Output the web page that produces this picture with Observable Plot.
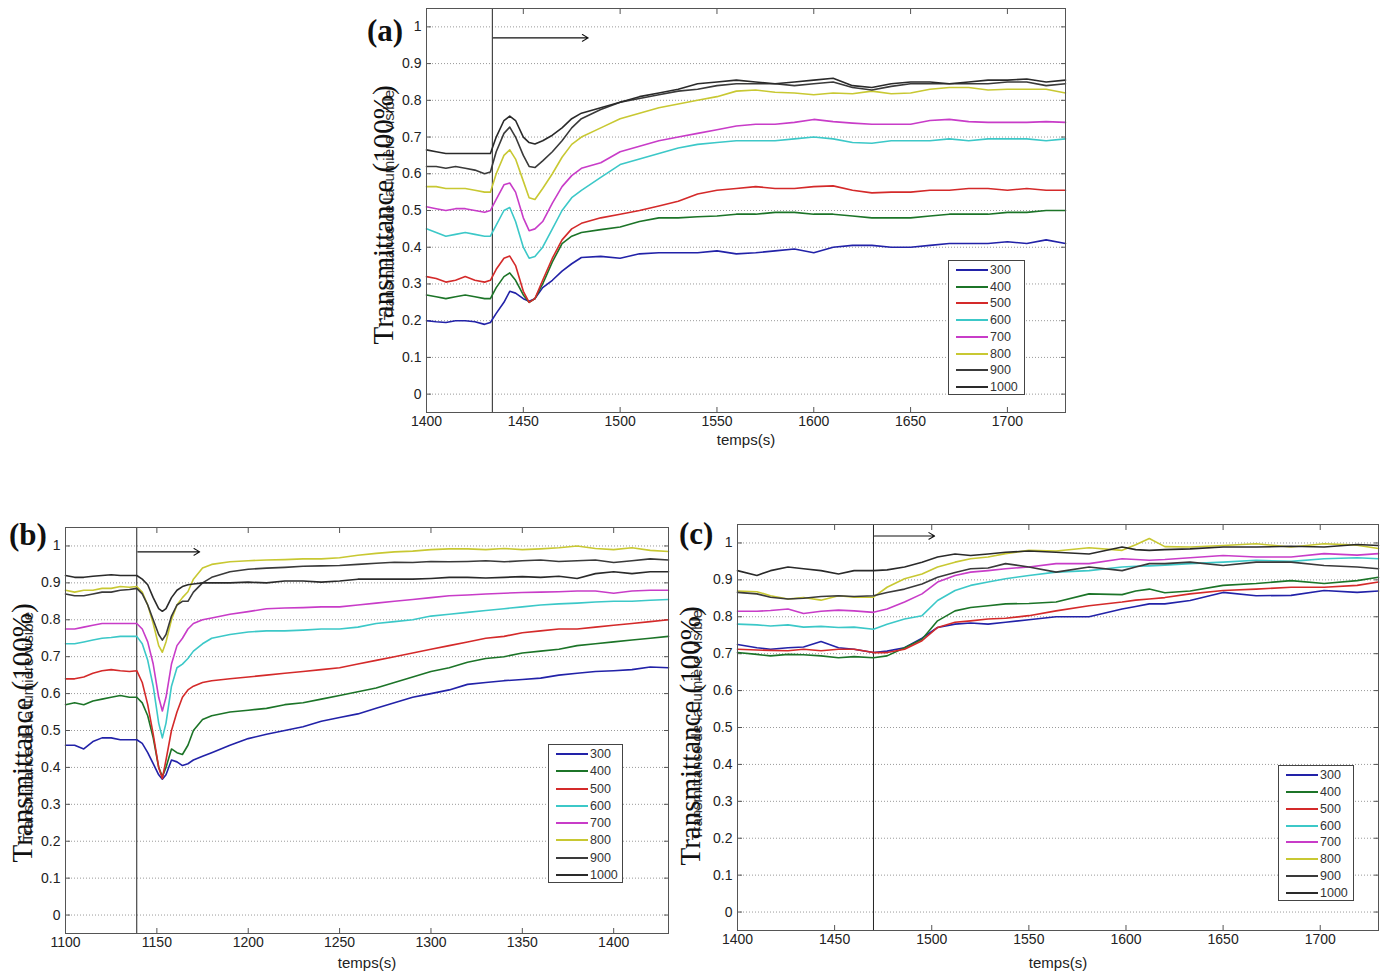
<!DOCTYPE html>
<html><head><meta charset="utf-8">
<script src="https://cdn.jsdelivr.net/npm/d3@7"></script>
<script src="https://cdn.jsdelivr.net/npm/@observablehq/plot@0.6"></script>
<style>
body{margin:0;background:#fff;}
#fig{position:relative;width:1384px;height:973px;overflow:hidden;background:#fff;font-family:"Liberation Sans",Arial,sans-serif;}
.panel{position:absolute;}
.legend{position:absolute;border:1px solid #444;background:#fff;box-sizing:border-box;}
.lrow{position:absolute;left:0;right:0;height:16px;font-size:12.5px;line-height:16px;color:#333;}
.lrow span.ln{position:absolute;top:7px;height:2px;}
.lrow span.tx{position:absolute;top:0;}
.ylab-big{position:absolute;font-family:"Liberation Serif","Times New Roman",serif;font-size:29px;color:#111;white-space:nowrap;transform:translate(-50%,-50%) rotate(-90deg);}
.ylab-small{position:absolute;font-family:"Liberation Sans",Arial,sans-serif;font-size:15px;color:#333;white-space:nowrap;transform:translate(-50%,-50%) rotate(-90deg);}
.plabel{position:absolute;font-family:"Liberation Serif","Times New Roman",serif;font-weight:bold;font-size:31px;color:#111;line-height:1;}
</style>
</head><body>
<div id="fig"></div>
<script>
// ---------- data ----------
const seriesNames = ["300","400","500","600","700","800","900","1000"];
const seriesColors = ["#2222a8","#1c7428","#d42a2a","#3cc8c8","#c83cc8","#c8c832","#3a3a3a","#2a2a2a"];
const yTicks = [0,0.1,0.2,0.3,0.4,0.5,0.6,0.7,0.8,0.9,1];
const xTicksA = [1400,1450,1500,1550,1600,1650,1700];
const xTicksB = [1100,1150,1200,1250,1300,1350,1400];
const xTicksC = [1400,1450,1500,1550,1600,1650,1700];
const yLabelBig = "Transmittance (100%)";
const yLabelSmall = "Transmittance de la lumière visible";
const xLabel = "temps(s)";

// panel (a)
const tA = [1400,1405,1410,1415,1420,1425,1430,1433,1436,1440,1443,1446,1450,1453,1456,1460,1465,1470,1475,1480,1490,1500,1510,1520,1530,1540,1550,1560,1570,1580,1590,1600,1610,1620,1630,1640,1650,1660,1670,1680,1690,1700,1710,1720,1730];
const a300 = [0.20,0.197,0.195,0.20,0.20,0.197,0.19,0.195, 0.22,0.25,0.28,0.275,0.26,0.253,0.26,0.29,0.31,0.335,0.355,0.372, 0.375,0.37,0.382,0.385,0.385,0.385,0.39,0.382,0.385,0.39,0.395,0.385,0.40,0.405,0.405,0.40,0.40,0.405,0.41,0.41,0.41,0.415,0.41,0.42,0.41];
const a400 = [0.27,0.265,0.26,0.265,0.27,0.265,0.26,0.26, 0.29,0.32,0.33,0.31,0.27,0.25,0.26,0.30,0.36,0.41,0.43,0.44, 0.448,0.455,0.47,0.48,0.48,0.483,0.485,0.49,0.49,0.495,0.495,0.49,0.49,0.485,0.48,0.48,0.48,0.485,0.49,0.49,0.49,0.495,0.495,0.50,0.50];
const a500 = [0.32,0.315,0.305,0.31,0.32,0.31,0.305,0.31, 0.34,0.37,0.376,0.35,0.28,0.25,0.26,0.31,0.37,0.42,0.45,0.465, 0.48,0.49,0.50,0.512,0.525,0.545,0.555,0.56,0.565,0.56,0.56,0.565,0.567,0.555,0.548,0.55,0.55,0.555,0.555,0.56,0.56,0.555,0.56,0.555,0.555];
const a600 = [0.45,0.44,0.43,0.435,0.44,0.435,0.43,0.43, 0.46,0.50,0.508,0.47,0.40,0.37,0.375,0.40,0.45,0.50,0.535,0.555, 0.59,0.625,0.64,0.655,0.67,0.68,0.685,0.69,0.69,0.69,0.695,0.70,0.695,0.685,0.683,0.69,0.69,0.69,0.695,0.69,0.695,0.695,0.695,0.69,0.695];
const a700 = [0.51,0.505,0.50,0.505,0.505,0.50,0.495,0.50, 0.53,0.57,0.575,0.55,0.48,0.445,0.45,0.47,0.52,0.565,0.595,0.615, 0.63,0.66,0.675,0.69,0.70,0.71,0.72,0.73,0.735,0.735,0.74,0.748,0.742,0.738,0.735,0.735,0.735,0.745,0.748,0.742,0.74,0.74,0.74,0.742,0.74];
const a800 = [0.565,0.565,0.56,0.56,0.56,0.555,0.55,0.55, 0.60,0.65,0.665,0.64,0.58,0.535,0.53,0.56,0.60,0.645,0.68,0.70, 0.725,0.75,0.765,0.78,0.79,0.80,0.81,0.825,0.828,0.822,0.82,0.815,0.82,0.818,0.825,0.818,0.82,0.83,0.835,0.835,0.828,0.83,0.83,0.83,0.82];
const a900 = [0.62,0.62,0.615,0.62,0.615,0.61,0.60,0.605, 0.66,0.71,0.727,0.70,0.65,0.62,0.617,0.635,0.66,0.69,0.725,0.75, 0.775,0.795,0.805,0.815,0.825,0.83,0.84,0.845,0.845,0.845,0.84,0.845,0.85,0.835,0.828,0.838,0.845,0.845,0.845,0.845,0.845,0.85,0.85,0.84,0.845];
const a1000 = [0.665,0.66,0.655,0.655,0.655,0.655,0.655,0.655, 0.70,0.745,0.757,0.745,0.70,0.685,0.681,0.69,0.705,0.725,0.75,0.765, 0.78,0.795,0.81,0.82,0.83,0.845,0.85,0.855,0.85,0.845,0.85,0.855,0.86,0.84,0.835,0.845,0.85,0.85,0.845,0.85,0.855,0.855,0.858,0.85,0.855];

// panel (b)
const tB = [1100,1105,1110,1115,1120,1125,1130,1135,1139,1142,1145,1148,1151,1153,1155,1158,1161,1164,1167,1170,1175,1180,1190,1200,1210,1220,1230,1240,1250,1260,1270,1280,1290,1300,1310,1320,1330,1340,1350,1360,1370,1380,1390,1400,1410,1420,1430];
const b300 = [0.46,0.46,0.45,0.47,0.48,0.48,0.475,0.475,0.475, 0.465,0.44,0.41,0.38,0.368,0.38,0.42,0.415,0.405,0.41,0.42,0.43,0.44, 0.46,0.478,0.49,0.50,0.51,0.525,0.535,0.545,0.56,0.575,0.59,0.60,0.61,0.625,0.63,0.635,0.638,0.642,0.65,0.655,0.66,0.662,0.665,0.672,0.67];
const b400 = [0.57,0.575,0.57,0.58,0.585,0.59,0.595,0.59,0.59, 0.575,0.54,0.48,0.40,0.375,0.40,0.45,0.44,0.435,0.46,0.50,0.53,0.54, 0.55,0.555,0.56,0.57,0.575,0.585,0.595,0.605,0.615,0.63,0.645,0.66,0.67,0.685,0.695,0.70,0.71,0.715,0.72,0.73,0.735,0.74,0.745,0.75,0.755];
const b500 = [0.64,0.64,0.645,0.655,0.662,0.665,0.662,0.66,0.662, 0.63,0.57,0.49,0.40,0.37,0.42,0.50,0.55,0.59,0.61,0.62,0.63,0.635, 0.64,0.645,0.65,0.655,0.66,0.665,0.67,0.68,0.69,0.70,0.71,0.72,0.73,0.74,0.75,0.755,0.765,0.77,0.775,0.775,0.78,0.785,0.79,0.795,0.80];
const b600 = [0.735,0.735,0.74,0.745,0.75,0.752,0.755,0.755,0.755, 0.735,0.69,0.62,0.52,0.48,0.52,0.62,0.67,0.68,0.695,0.715,0.735,0.75, 0.76,0.767,0.77,0.77,0.772,0.775,0.775,0.78,0.79,0.795,0.80,0.81,0.815,0.82,0.825,0.83,0.835,0.84,0.843,0.845,0.848,0.85,0.85,0.853,0.855];
const b700 = [0.775,0.775,0.78,0.785,0.79,0.79,0.79,0.79,0.79, 0.775,0.74,0.68,0.59,0.553,0.59,0.68,0.73,0.75,0.775,0.79,0.80,0.805, 0.815,0.822,0.83,0.832,0.833,0.835,0.835,0.84,0.845,0.85,0.855,0.86,0.865,0.867,0.87,0.872,0.874,0.875,0.876,0.878,0.878,0.872,0.878,0.88,0.88];
const b800 = [0.88,0.875,0.88,0.88,0.885,0.885,0.89,0.888,0.89, 0.875,0.84,0.79,0.73,0.712,0.74,0.80,0.84,0.86,0.876,0.91,0.94,0.95, 0.957,0.96,0.962,0.963,0.965,0.965,0.968,0.975,0.98,0.984,0.986,0.99,0.992,0.992,0.99,0.993,0.99,0.992,0.995,1.0,0.993,0.99,0.995,0.988,0.985];
const b900 = [0.87,0.865,0.865,0.87,0.875,0.875,0.88,0.882,0.885, 0.87,0.84,0.80,0.76,0.745,0.76,0.81,0.84,0.85,0.85,0.875,0.90,0.915, 0.93,0.937,0.94,0.942,0.945,0.946,0.947,0.95,0.953,0.956,0.955,0.958,0.957,0.958,0.96,0.957,0.96,0.962,0.958,0.96,0.962,0.955,0.96,0.965,0.962];
const b1000 = [0.92,0.915,0.915,0.918,0.92,0.922,0.92,0.92,0.92, 0.91,0.895,0.86,0.83,0.823,0.83,0.86,0.88,0.89,0.895,0.897,0.90,0.90, 0.90,0.902,0.90,0.905,0.905,0.902,0.905,0.91,0.91,0.91,0.91,0.912,0.915,0.915,0.913,0.915,0.917,0.915,0.918,0.912,0.925,0.93,0.925,0.93,0.93];

// panel (c)
const tC = [1400,1410,1417,1426,1434,1443,1452,1460,1470,1477,1486,1495,1503,1512,1520,1529,1538,1550,1564,1581,1598,1605,1612,1620,1633,1650,1667,1685,1702,1719,1730];
const c300 = [0.725,0.716,0.712,0.716,0.718,0.733,0.716,0.712,0.703,0.707,0.716,0.742,0.771,0.78,0.783,0.78,0.785,0.792,0.80,0.80,0.821,0.828,0.835,0.835,0.844,0.866,0.857,0.858,0.871,0.866,0.87];
const c400 = [0.703,0.698,0.694,0.698,0.697,0.694,0.689,0.692,0.689,0.694,0.716,0.739,0.789,0.816,0.825,0.83,0.835,0.836,0.84,0.862,0.86,0.87,0.875,0.865,0.87,0.885,0.89,0.898,0.89,0.898,0.907];
const c500 = [0.712,0.71,0.709,0.708,0.712,0.708,0.712,0.712,0.703,0.703,0.712,0.735,0.771,0.785,0.789,0.794,0.796,0.803,0.816,0.83,0.84,0.845,0.848,0.852,0.862,0.871,0.875,0.88,0.88,0.885,0.894];
const c600 = [0.78,0.778,0.775,0.778,0.772,0.774,0.771,0.772,0.766,0.78,0.794,0.803,0.844,0.871,0.885,0.894,0.903,0.912,0.921,0.925,0.935,0.937,0.938,0.94,0.944,0.948,0.953,0.95,0.957,0.96,0.957];
const c700 = [0.815,0.815,0.817,0.821,0.809,0.815,0.818,0.816,0.812,0.821,0.84,0.862,0.894,0.912,0.921,0.925,0.93,0.935,0.944,0.944,0.957,0.955,0.953,0.955,0.96,0.966,0.962,0.962,0.971,0.967,0.971];
const c800 = [0.87,0.868,0.857,0.848,0.852,0.845,0.857,0.853,0.853,0.88,0.903,0.916,0.935,0.948,0.957,0.962,0.971,0.98,0.978,0.987,0.98,0.995,1.012,0.99,0.989,0.993,0.998,0.989,0.998,0.994,0.985];
const c900 = [0.866,0.862,0.853,0.848,0.85,0.855,0.857,0.855,0.857,0.866,0.875,0.889,0.907,0.92,0.93,0.932,0.944,0.935,0.921,0.935,0.925,0.935,0.944,0.944,0.948,0.939,0.948,0.948,0.939,0.935,0.93];
const c1000 = [0.925,0.912,0.925,0.935,0.93,0.925,0.916,0.925,0.925,0.927,0.935,0.948,0.962,0.97,0.966,0.97,0.975,0.978,0.975,0.97,0.989,0.982,0.98,0.982,0.984,0.989,0.989,0.991,0.989,0.996,0.993];

// events (start time, arrow extent and level)
const eventA = {t: 1434, arrowEnd: 1484, arrowY: 0.97};
const eventB = {t: 1139, arrowEnd: 1174, arrowY: 0.984};
const eventC = {t: 1470, arrowEnd: 1502, arrowY: 1.019};

// ---------- build ----------
function rows(t, list) {
  const out = [];
  list.forEach((vals, i) => vals.forEach((v, j) => out.push({t: t[j], v, s: seriesNames[i]})));
  return out;
}

const panels = [
  {letter:"(a)", left:360, top:0, width:720, height:455, mL:66, mR:15, mT:8, mB:43, xDomain:[1400,1730], xTicks:xTicksA,
   data: rows(tA,[a300,a400,a500,a600,a700,a800,a900,a1000]), ev:eventA, xLabDy:32,
   legend:[948,260,77,135], big:[383,215], small:[388,205], plabel:[367,15]},
  {letter:"(b)", left:0, top:520, width:690, height:453, mL:65, mR:22, mT:7, mB:40, xDomain:[1100,1430], xTicks:xTicksB,
   data: rows(tB,[b300,b400,b500,b600,b700,b800,b900,b1000]), ev:eventB, xLabDy:34,
   legend:[548,744,75,139], big:[22,733], small:[27,727], plabel:[9,519]},
  {letter:"(c)", left:670, top:515, width:714, height:458, mL:67, mR:6, mT:9, mB:43, xDomain:[1400,1730], xTicks:xTicksC,
   data: rows(tC,[c300,c400,c500,c600,c700,c800,c900,c1000]), ev:eventC, xLabDy:37,
   legend:[1278,765,76,136], big:[690,736], small:[696,725], plabel:[679,518]}
];

const fig = document.getElementById("fig");

panels.forEach(p => {
  const chart = Plot.plot({
    width: p.width, height: p.height,
    marginLeft: p.mL, marginRight: p.mR, marginTop: p.mT, marginBottom: p.mB,
    x: {domain: p.xDomain},
    y: {domain: [-0.05, 1.05]},
    color: {domain: seriesNames, range: seriesColors},
    style: {fontFamily: '"Liberation Sans", Arial, sans-serif', fontSize: "14px", color: "#222", background: "transparent", overflow: "visible"},
    marks: [
      Plot.gridY(yTicks, {stroke: "#9a9a9a", strokeOpacity: 1, strokeDasharray: "1,2", strokeWidth: 1}),
      Plot.axisX(p.xTicks, {anchor: "bottom", tickSize: -5, tickPadding: 9, label: null, stroke: "#555", fontSize: 14, tickFormat: d => String(d)}),
      Plot.axisX(p.xTicks, {anchor: "top", tickSize: -5, tickFormat: () => "", label: null, stroke: "#555"}),
      Plot.axisY(yTicks, {anchor: "left", tickSize: -5, tickPadding: 10, label: null, stroke: "#555", fontSize: 14, tickFormat: d => String(d)}),
      Plot.axisY(yTicks, {anchor: "right", tickSize: -5, tickFormat: () => "", label: null, stroke: "#555"}),
      Plot.ruleX([p.ev.t], {stroke: "#222", strokeWidth: 1}),
      Plot.line(p.data, {x: "t", y: "v", z: "s", stroke: "s", strokeWidth: 1.6}),
      Plot.arrow([p.ev], {x1: "t", x2: "arrowEnd", y1: "arrowY", y2: "arrowY", stroke: "#111", strokeWidth: 1.1, headLength: 9, inset: 1}),
      Plot.frame({stroke: "#555", strokeWidth: 1}),
      Plot.text([xLabel], {frameAnchor: "bottom", dy: p.xLabDy, fontSize: 15, fill: "#222"})
    ]
  });
  chart.classList.add("panel");
  chart.style.left = p.left + "px";
  chart.style.top = p.top + "px";
  fig.appendChild(chart);

  // legend
  const [lx, ly, lw, lh] = p.legend;
  const lg = document.createElement("div");
  lg.className = "legend";
  Object.assign(lg.style, {left: lx + "px", top: ly + "px", width: lw + "px", height: lh + "px"});
  const step = (lh - 18) / (seriesNames.length - 1);
  seriesNames.forEach((name, i) => {
    const r = document.createElement("div");
    r.className = "lrow";
    r.style.top = (1 + i * step) + "px";
    const ln = document.createElement("span");
    ln.className = "ln";
    Object.assign(ln.style, {left: "7px", width: "32px", background: seriesColors[i]});
    const tx = document.createElement("span");
    tx.className = "tx";
    tx.style.left = "41px";
    tx.textContent = name;
    r.appendChild(ln); r.appendChild(tx);
    lg.appendChild(r);
  });
  fig.appendChild(lg);

  // y labels (overlapping, as in the source figure)
  const sm = document.createElement("div");
  sm.className = "ylab-small";
  sm.textContent = yLabelSmall;
  sm.style.left = p.small[0] + "px"; sm.style.top = p.small[1] + "px";
  fig.appendChild(sm);
  const bg = document.createElement("div");
  bg.className = "ylab-big";
  bg.textContent = yLabelBig;
  bg.style.left = p.big[0] + "px"; bg.style.top = p.big[1] + "px";
  fig.appendChild(bg);

  const pl = document.createElement("div");
  pl.className = "plabel";
  pl.textContent = p.letter;
  pl.style.left = p.plabel[0] + "px"; pl.style.top = p.plabel[1] + "px";
  fig.appendChild(pl);
});
</script>
</body></html>
